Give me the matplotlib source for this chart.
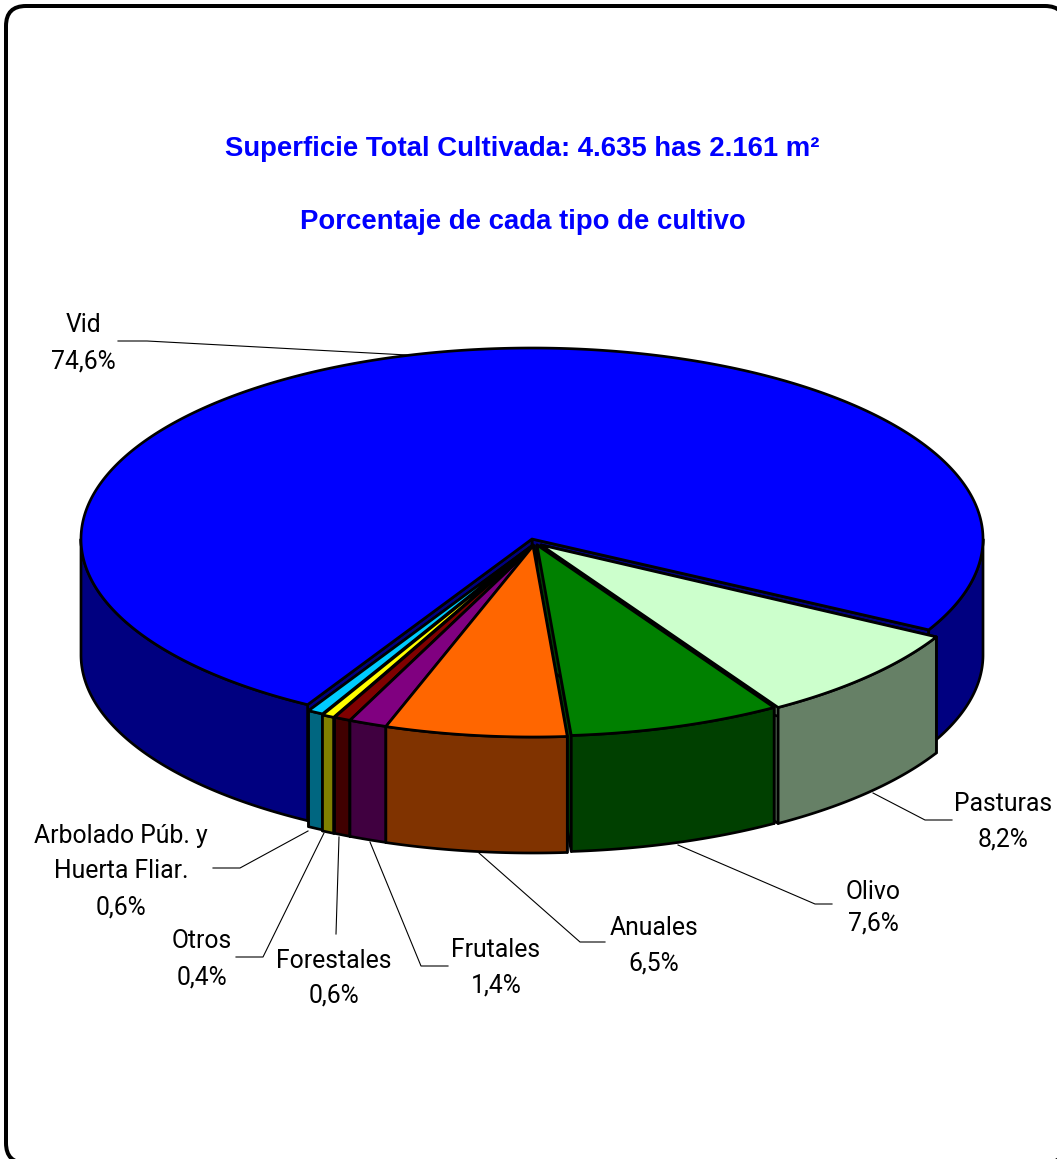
import numpy as np
import matplotlib
matplotlib.use("Agg")
import matplotlib.pyplot as plt
from matplotlib.patches import Polygon, FancyBboxPatch

# --- data
categories = ["Vid", "Pasturas", "Olivo", "Anuales", "Frutales", "Forestales", "Otros", "Arbolado Púb. y\nHuerta Fliar."]
values = [74.6, 8.2, 7.6, 6.5, 1.4, 0.6, 0.44, 0.56]
value_labels = ["74,6%", "8,2%", "7,6%", "6,5%", "1,4%", "0,6%", "0,4%", "0,6%"]
top_colors = ["#0000FF", "#CCFFCC", "#008000", "#FF6600", "#800080", "#800000", "#FFFF00", "#00CCFF"]
side_colors = ["#000080", "#668066", "#004000", "#803300", "#400040", "#400000", "#808000", "#006680"]
title_lines = ["Superficie Total Cultivada: 4.635 has 2.161 m²", "Porcentaje de cada tipo de cultivo"]

# --- layout (pixels of the 1057x1159 image)
W, H = 1057, 1159
CX, CY, RX, RY, DEPTH = 532, 539, 451, 191, 116
START = -28.4
offsets = [(0, 0), (9, 6), (5, 6), (1, 7), (2, 7), (2, 7), (1, 7), (1, 6)]
draw_order = [0, 1, 2, 7, 6, 5, 4, 3]
angle_order = [0, 7, 6, 5, 4, 3, 2, 1]
label_pos = [
    (83, [325, 362]), (1003, [804, 840]), (873, [892, 923]), (654, [928, 963]),
    (496, [950, 986]), (334, [961, 996]), (202, [941, 978]), (121, [836, 871, 907]),
]
leaders = [
    [(118, 341), (147, 341), (407, 355)],
    [(873, 793), (925, 820), (952, 820)],
    [(678, 845), (815, 904), (832, 904)],
    [(479, 853), (580, 942), (605, 942)],
    [(370, 842), (421, 966), (448, 966)],
    [(339, 837), (336, 934)],
    [(324, 833), (263, 957), (236, 957)],
    [(308, 831), (240, 868), (213, 868)],
]

NARROW = ["Roboto", "Liberation Sans", "DejaVu Sans"]
PX = 72 / 100

fig = plt.figure(figsize=(W / 100, H / 100), dpi=100, facecolor="white")
ax = fig.add_axes([0, 0, 1, 1])
ax.set_xlim(0, W)
ax.set_ylim(H, 0)
ax.axis("off")

ax.add_patch(FancyBboxPatch((6, 6), 1059, 1157, boxstyle="round,pad=0,rounding_size=20",
                            fc="white", ec="black", lw=4 * PX, zorder=0))


def rim(t0, t1, ox, oy, dz=0):
    t = np.radians(np.linspace(t0, t1, max(int(abs(t1 - t0) * 2), 2)))
    return np.column_stack([CX + ox + RX * np.cos(t), CY + oy + dz + RY * np.sin(-t)])


def poly(pts, color, z, lw=2.7):
    ax.add_patch(Polygon(pts, closed=True, fc=color, ec="black", lw=lw * PX, joinstyle="round", zorder=z))


# slice angle ranges from the values, counter-clockwise from START
spans = np.array(values) / 100 * 360
rng = {}
a = START
for i in angle_order:
    rng[i] = (a, a + spans[i])
    a += spans[i]

z = 1
for i in draw_order:
    t0, t1 = rng[i]
    ox, oy = offsets[i]
    tip = np.array([CX + ox, CY + oy])
    for t in (t0, t1):
        p = rim(t, t, ox, oy)[0]
        poly([tip, p, p + [0, DEPTH], tip + [0, DEPTH]], side_colors[i], z)
    for k in (0, 1):
        a0, a1 = max(t0, -180 + 360 * k), min(t1, 0 + 360 * k)
        if a1 > a0:
            poly(np.vstack([rim(a0, a1, ox, oy), rim(a1, a0, ox, oy, DEPTH)]), side_colors[i], z)
    poly(np.vstack([[tip], rim(t0, t1, ox, oy)]), top_colors[i], z)
    z += 1

for pts in leaders:
    xs, ys = zip(*pts)
    ax.plot(xs, ys, color="black", lw=1.1 * PX, zorder=20, solid_joinstyle="miter")

for i, (x, ys) in enumerate(label_pos):
    lines = categories[i].split("\n") + [value_labels[i]]
    for line, y in zip(lines, ys):
        ax.text(x, y, line, ha="center", va="center", family=NARROW, fontsize=17.8,
                color="black", zorder=21)

for line, y in zip(title_lines, [149, 222]):
    ax.text(522.5, y, line, ha="center", va="center", family=["Liberation Sans", "DejaVu Sans"],
            fontweight="bold", fontsize=19.85, color="#0000FF", zorder=21)

fig.savefig("out.png", dpi=100, facecolor="white")
